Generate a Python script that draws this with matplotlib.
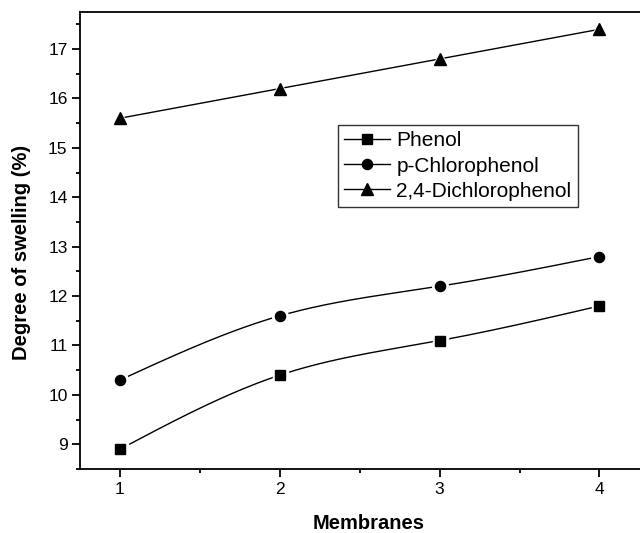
import numpy as np
import matplotlib
matplotlib.use("Agg")
import matplotlib.pyplot as plt
from matplotlib.lines import Line2D

plt.rcParams['font.family'] = ['Liberation Sans', 'DejaVu Sans']

membranes = [1, 2, 3, 4]
phenol = [8.9, 10.4, 11.1, 11.8]
p_chlorophenol = [10.3, 11.6, 12.2, 12.8]
dichlorophenol = [15.6, 16.2, 16.8, 17.4]
labels = ["Phenol", "p-Chlorophenol", "2,4-Dichlorophenol"]
markers = ["s", "o", "^"]
msizes = [6.8, 7.3, 8.2]


def natural_spline(x, y, n=200):
    x = np.asarray(x, float)
    y = np.asarray(y, float)
    k = len(x)
    h = np.diff(x)
    A = np.zeros((k, k))
    b = np.zeros(k)
    A[0, 0] = A[-1, -1] = 1
    for i in range(1, k - 1):
        A[i, i - 1] = h[i - 1]
        A[i, i] = 2 * (h[i - 1] + h[i])
        A[i, i + 1] = h[i]
        b[i] = 6 * ((y[i + 1] - y[i]) / h[i] - (y[i] - y[i - 1]) / h[i - 1])
    M = np.linalg.solve(A, b)
    xs = np.linspace(x[0], x[-1], n)
    ys = np.empty_like(xs)
    for j, t in enumerate(xs):
        i = min(np.searchsorted(x, t, side='right') - 1, k - 2)
        a, bb = x[i], x[i + 1]
        hi = bb - a
        ys[j] = (M[i] * (bb - t) ** 3 / (6 * hi) + M[i + 1] * (t - a) ** 3 / (6 * hi)
                 + (y[i] / hi - M[i] * hi / 6) * (bb - t)
                 + (y[i + 1] / hi - M[i + 1] * hi / 6) * (t - a))
    return xs, ys


W, H = 640, 533
fig = plt.figure(figsize=(6.4, 5.33), dpi=100)
ax = fig.add_axes([80 / W, (H - 469) / H, 561 / W, 457 / H])

series = [phenol, p_chlorophenol, dichlorophenol]
for vals, m, s in zip(series, markers, msizes):
    xs, ys = natural_spline(membranes, vals)
    ax.plot(xs, ys, color='black', lw=1.0, zorder=2)
    ax.plot(membranes, vals, linestyle='none', marker=m, ms=s + 4, mfc='white',
            mec='white', zorder=3)
    ax.plot(membranes, vals, linestyle='none', marker=m, ms=s, mfc='black',
            mec='black', zorder=4)

ax.set_xlim(0.75, 4.26)
ax.set_ylim(8.5, 17.75)
ax.set_xticks(membranes)
ax.set_xticks([1.5, 2.5, 3.5], minor=True)
ax.set_yticks(np.arange(9, 18, 1))
ax.set_yticks(np.arange(8.5, 17.6, 1), minor=True)
ax.tick_params(which='major', direction='out', length=6, width=1.3,
               labelsize=12.5, colors='black', pad=3)
ax.tick_params(which='minor', direction='out', length=3, width=1.3)
ax.tick_params(top=False, right=False)
for sp in ['left', 'bottom', 'top', 'right']:
    ax.spines[sp].set_linewidth(1.3)

ax.set_xlabel("Membranes", fontsize=14.5, fontweight='bold')
ax.set_ylabel("Degree of swelling (%)", fontsize=14.5, fontweight='bold')
ax.xaxis.set_label_coords((369 - 80) / 561, -(529 - 469) / 457)
ax.xaxis.label.set_va('baseline')
ax.yaxis.set_label_coords(-(80 - 22) / 561, (469 - 252) / 457)
ax.yaxis.label.set_va('center')

handles = [Line2D([], [], color='black', lw=1.0, marker=m, ms=s, mfc='black')
           for m, s in zip(markers, msizes)]
leg = ax.legend(handles, labels, loc='upper left', bbox_to_anchor=((338 - 80) / 561, (469 - 125) / 457),
                borderaxespad=0, fontsize=15, frameon=True, fancybox=False,
                edgecolor='black', handlelength=2.2, handletextpad=0.3,
                labelspacing=0.3, borderpad=0.3)
leg.get_frame().set_linewidth(1.0)

fig.savefig("out.png", dpi=100)
